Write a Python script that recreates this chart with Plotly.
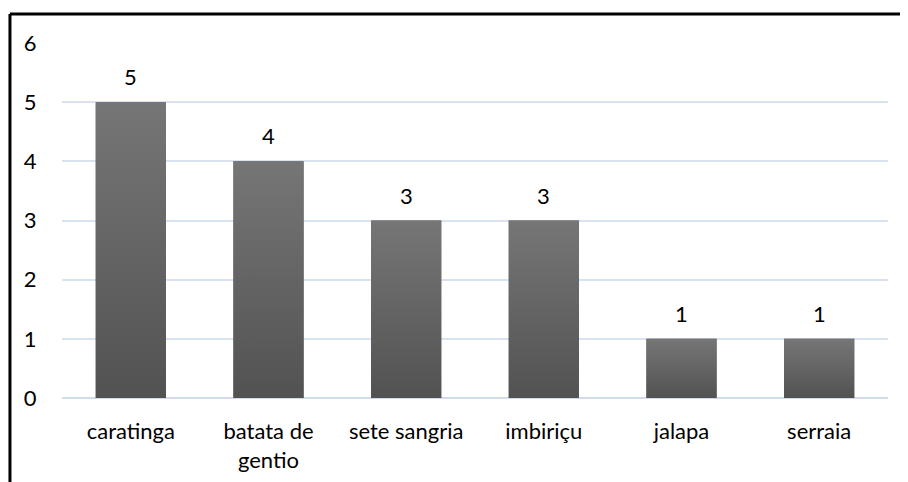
import plotly.graph_objects as go

categories = ["caratinga", "batata de<br>gentio", "sete sangria", "imbiriçu", "jalapa", "serraia"]
values = [5, 4, 3, 3, 1, 1]
y_ticks = [0, 1, 2, 3, 4, 5, 6]

FONT = "Lato"
FS = 22
BAR_W = 0.51
x_pos = list(range(len(categories)))

fig = go.Figure()
fig.add_trace(go.Bar(
    x=x_pos, y=values,
    marker=dict(color="#636363", line=dict(width=0)),
    width=BAR_W,
    hoverinfo="skip",
))
# vertical gradient overlay on each bar (same geometry as the bar)
for i, v in zip(x_pos, values):
    fig.add_trace(go.Scatter(
        x=[i - BAR_W / 2, i + BAR_W / 2, i + BAR_W / 2, i - BAR_W / 2, i - BAR_W / 2],
        y=[0, 0, v, v, 0],
        mode="lines", line=dict(width=0, color="rgba(0,0,0,0)"),
        fill="toself",
        fillgradient=dict(type="vertical",
                          colorscale=[[0, "#525252"], [1, "#767676"]]),
        hoverinfo="skip",
    ))
for i, v in zip(x_pos, values):
    fig.add_annotation(x=i, y=v, text=str(v), showarrow=False,
                       yanchor="bottom", yshift=10,
                       font=dict(family=FONT, size=FS, color="#000000"))

fig.update_layout(
    width=908, height=482,
    margin=dict(l=54, r=28, t=35, b=92, autoexpand=False),
    paper_bgcolor="white", plot_bgcolor="white",
    showlegend=False,
    font=dict(family=FONT, size=FS, color="#000000"),
    xaxis=dict(range=[-0.5, len(categories) - 0.5], tickvals=x_pos, ticktext=categories,
               showgrid=False, showline=False, zeroline=False, ticks="outside", ticklen=14,
               tickcolor="rgba(0,0,0,0)", tickfont=dict(size=FS), automargin=False),
    yaxis=dict(range=[0, 6], tickvals=y_ticks, showgrid=True,
               gridcolor="#d9e2f1", gridwidth=1.5, zeroline=True,
               zerolinecolor="#d0dbee", zerolinewidth=1.5,
               ticks="outside", ticklen=20, tickcolor="rgba(0,0,0,0)",
               tickfont=dict(size=FS), showline=False, automargin=False),
    shapes=[
        dict(type="line", xref="paper", yref="paper",
             x0=-0.0630, x1=1.1, y0=1.0817, y1=1.0817,
             line=dict(color="#000000", width=3)),
        dict(type="line", xref="paper", yref="paper",
             x0=-0.0630, x1=-0.0630, y0=1.0817, y1=-0.3,
             line=dict(color="#000000", width=3)),
    ],
)
fig.write_html("out.html")
